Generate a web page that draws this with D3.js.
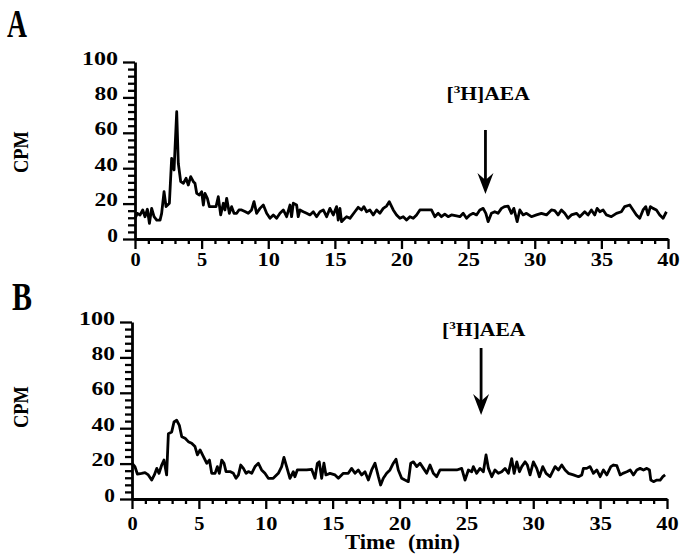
<!DOCTYPE html>
<html>
<head>
<meta charset="utf-8">
<script src="https://cdn.jsdelivr.net/npm/d3@7"></script>
<style>
  body { margin: 0; background: #fff; }
  svg text { font-family: "Liberation Serif", "Times New Roman", serif; font-weight: bold; fill: #000; }
</style>
</head>
<body>
<div id="chart"></div>
<script>
// tick values
const xTicks = [0, 5, 10, 15, 20, 25, 30, 35, 40];
const yTicks = [0, 20, 40, 60, 80, 100];

// trace A: [time (min), CPM]
const traceA = [
  [0, 11.7], [0.18, 14.5], [0.38, 13.6], [0.58, 16.4], [0.75, 12.6], [0.93, 16.8], [1.08, 8.8], [1.25, 17.3],
  [1.43, 12.6], [1.63, 10.7], [1.88, 10.7], [2.0, 14.5], [2.18, 26.7], [2.33, 18.3], [2.58, 20.2], [2.75, 45.6],
  [2.93, 39], [3.13, 71.9], [3.25, 42.7], [3.43, 32.4], [3.63, 31.5], [3.83, 34.3], [4.0, 30.5], [4.18, 35.2],
  [4.38, 32.4], [4.5, 31.5], [4.63, 25.8], [4.83, 24.9], [5.0, 26.7], [5.13, 19.2], [5.25, 25.8], [5.43, 23],
  [5.58, 18.3], [5.83, 18.3], [6.08, 18.3], [6.25, 23.9], [6.43, 13.6], [6.63, 20.2], [6.75, 16.4], [6.88, 23],
  [7.08, 14.5], [7.25, 18.3], [7.43, 14.5], [7.63, 14.5], [7.8, 16.4], [8.0, 16.4], [8.25, 15.5], [8.5, 14.5],
  [8.75, 16.4], [8.93, 21.1], [9.13, 14.5], [9.38, 17.3], [9.63, 19.2], [9.88, 14.5], [10.13, 11.7], [10.38, 13.6],
  [10.63, 11.7], [10.88, 14.5], [11.13, 16.4], [11.38, 12.6], [11.63, 19.2], [11.75, 12.6], [11.88, 20.2], [12.13, 19.2],
  [12.25, 12.6], [12.38, 16.4], [12.63, 15.4], [12.88, 14.5], [13.13, 13.6], [13.38, 15.4], [13.63, 12.6], [13.88, 15.4],
  [14.13, 16.4], [14.38, 12.6], [14.63, 17.3], [14.88, 13.6], [15.13, 18.3], [15.25, 10.7], [15.38, 17.3], [15.5, 9.8],
  [15.75, 11.7], [15.88, 12.6], [16.13, 11.7], [16.5, 15.4], [16.75, 17.9], [17.0, 16.4], [17.18, 18.3], [17.38, 15.4],
  [17.63, 16.4], [17.88, 13.6], [18.13, 16.4], [18.38, 14.5], [18.63, 17.3], [18.88, 18.6], [19.08, 21.1], [19.38, 16.4],
  [19.63, 13.6], [19.88, 11.7], [20.13, 12.6], [20.38, 10.7], [20.63, 12.6], [20.88, 11.7], [21.13, 13.6], [21.38, 16.4],
  [22.25, 16.4], [22.5, 12.6], [22.75, 14.5], [23.0, 12.6], [23.25, 14], [23.5, 12.6], [23.75, 13.6], [24.13, 13],
  [24.38, 12.6], [24.63, 14.5], [24.88, 11.7], [25.13, 13.6], [25.38, 14.5], [25.63, 13.6], [25.88, 16.4], [26.13, 17.3],
  [26.33, 14.5], [26.5, 9.8], [26.75, 14.5], [27.0, 15.4], [27.25, 14.5], [27.5, 17.3], [27.75, 18.3], [28.0, 18.6],
  [28.25, 14.5], [28.43, 17.3], [28.68, 9.8], [28.88, 16.4], [29.13, 13.6], [29.38, 14.5], [29.75, 12.6], [30.13, 13.6],
  [30.5, 14.5], [30.88, 13.6], [31.25, 16.4], [31.5, 16], [31.75, 13.6], [32.0, 16.4], [32.25, 14.5], [32.5, 11.7],
  [32.75, 13.6], [33.13, 14.5], [33.38, 12.6], [33.75, 15.4], [34.0, 13.6], [34.25, 16.4], [34.5, 13.6], [34.68, 17.3],
  [34.88, 15.4], [35.13, 16.4], [35.38, 13.6], [35.75, 12.6], [36.13, 14.5], [36.5, 15.4], [36.75, 18.3], [37.13, 19.2],
  [37.38, 16.4], [37.63, 13.6], [37.88, 11.7], [38.13, 16.4], [38.33, 18.3], [38.5, 13.6], [38.68, 18.3], [38.88, 17.3],
  [39.13, 16.4], [39.38, 13.6], [39.63, 11.7], [39.88, 15.4]
];

// trace B: [time (min), CPM]
const traceB = [
  [0, 20.2], [0.22, 18.3], [0.4, 14.1], [0.72, 14.5], [0.97, 14.9], [1.22, 13.6], [1.47, 10.7], [1.67, 13.6],
  [1.85, 17.3], [2.02, 14.5], [2.22, 19.2], [2.39, 22], [2.59, 13.6], [2.72, 36.9], [2.97, 37.9], [3.14, 43.5],
  [3.34, 44.5], [3.54, 41.6], [3.72, 35.2], [3.97, 34.3], [4.21, 32.4], [4.46, 31.5], [4.71, 29.6], [4.89, 24.9],
  [5.09, 27.7], [5.34, 23.9], [5.59, 20.2], [5.79, 22], [5.96, 14.5], [6.21, 14.5], [6.38, 18.3], [6.53, 14.5],
  [6.71, 22], [6.88, 20.2], [7.03, 15.5], [7.33, 15.5], [7.58, 14.5], [7.78, 11.7], [7.96, 13.6], [8.13, 19.2],
  [8.33, 17.3], [8.53, 14.5], [8.7, 15.5], [8.95, 14.5], [9.2, 18.3], [9.45, 20.2], [9.69, 16.4], [9.94, 14.5],
  [10.19, 11.7], [10.56, 11.7], [10.94, 14.5], [11.19, 18.3], [11.36, 23.5], [11.56, 18.3], [11.81, 11.7], [12.06, 15.4],
  [12.18, 12.6], [12.36, 16.4], [12.68, 16.4], [13.06, 16.4], [13.43, 16.8], [13.68, 11.7], [13.86, 20.2], [14.0, 21],
  [14.18, 11.7], [14.35, 20.2], [14.5, 13.6], [14.8, 14.5], [15.18, 13.6], [15.43, 11.7], [15.8, 14.5], [16.17, 14.5],
  [16.42, 17.3], [16.67, 14.5], [16.92, 16.4], [17.17, 13.6], [17.42, 15.4], [17.67, 10.7], [17.92, 16.4], [18.17, 20.2],
  [18.42, 12.6], [18.59, 7.9], [18.79, 11.7], [19.04, 14.5], [19.29, 16.4], [19.54, 20.2], [19.74, 22.5], [19.91, 16.4],
  [20.16, 11.7], [20.41, 10.7], [20.66, 9.8], [20.84, 20.2], [21.04, 21], [21.29, 18.3], [21.54, 20.2], [21.79, 17.3],
  [22.03, 14.5], [22.28, 19.2], [22.53, 14.5], [22.78, 12.6], [23.03, 16.4], [23.53, 16.4], [24.28, 16.4], [24.65, 17.3],
  [24.9, 10.7], [25.15, 16.4], [25.4, 15.4], [25.52, 18.3], [25.77, 14.5], [26.02, 17.3], [26.27, 15.4], [26.47, 24.9],
  [26.65, 17.3], [26.9, 12.6], [27.14, 16.4], [27.39, 14.5], [27.64, 15.4], [27.89, 17.3], [28.14, 14.5], [28.39, 22.8],
  [28.57, 14.5], [28.77, 21], [28.97, 15.4], [29.14, 18.3], [29.39, 21], [29.56, 19.2], [29.76, 13.6], [30.01, 21],
  [30.26, 17.3], [30.46, 12.6], [30.71, 18.3], [30.96, 14.5], [31.26, 12.6], [31.63, 18.3], [31.88, 16.4], [32.13, 19.2],
  [32.38, 16.4], [32.63, 14.5], [33.0, 13.6], [33.38, 12.6], [33.63, 13.6], [33.75, 17.3], [34.0, 17.3], [34.25, 18.3],
  [34.5, 14.5], [34.75, 16.4], [35.0, 12.6], [35.25, 16.4], [35.5, 13.6], [35.8, 18.3], [36.0, 19.2], [36.25, 18.8],
  [36.5, 13.6], [36.7, 14.5], [37.0, 15.4], [37.25, 16.4], [37.49, 13.6], [37.74, 16.4], [37.99, 17.3], [38.24, 16.4],
  [38.49, 17.3], [38.69, 16.4], [38.79, 10.7], [38.99, 9.8], [39.24, 10.7], [39.49, 10.7], [39.69, 12.6], [39.86, 13.6]
];

// injection arrows: time, top and tip of arrow (CPM units), label baseline (CPM units)
const arrowTimes = [26.3, 26.1];
const arrowTops = [61.6, 85.3];
const arrowTips = [25.4, 47.5];
const arrowLabelAt = [78.5, 92];

const svg = d3.select('#chart')
  .append('svg')
  .attr('width', 682)
  .attr('height', 555);

// each panel has its own frame in the page
const panels = [
  { name: 'A', data: traceA, xr: [135, 668], yr: [239, 62], xLabelY: 27, nameX: 7, nameY: 37, cpmY: 152 },
  { name: 'B', data: traceB, xr: [132, 667], yr: [499, 322], xLabelY: 31, nameX: 12, nameY: 310, cpmY: 407 }
];

panels.forEach((p, i) => {
  const x = d3.scaleLinear().domain([0, 40]).range(p.xr);
  const y = d3.scaleLinear().domain([0, 100]).range(p.yr);
  const g = svg.append('g');

  // minor ticks first
  g.append('g')
    .attr('transform', `translate(${p.xr[0]},0)`)
    .call(d3.axisLeft(y).tickValues(d3.range(0, 101, 4).filter(v => v % 20)).tickSize(7).tickFormat(''))
    .call(a => a.select('.domain').remove());
  g.append('g')
    .attr('transform', `translate(0,${p.yr[0]})`)
    .call(d3.axisBottom(x).tickValues(d3.range(0, 41).filter(v => v % 5)).tickSize(5).tickFormat(''))
    .call(a => a.select('.domain').remove());

  // major y axis
  const yAxis = g.append('g')
    .attr('transform', `translate(${p.xr[0]},0)`)
    .call(d3.axisLeft(y).tickValues(yTicks).tickSize(12).tickSizeOuter(0).tickPadding(5));
  yAxis.selectAll('text')
    .attr('dy', 2)
    .style('font-size', '18px')
    .attr('textLength', d => String(d).length * 12.7 - 2)
    .attr('lengthAdjust', 'spacingAndGlyphs');

  // major x axis
  const xAxis = g.append('g')
    .attr('transform', `translate(0,${p.yr[0]})`)
    .call(d3.axisBottom(x).tickValues(xTicks).tickSize(10).tickSizeOuter(0));
  xAxis.selectAll('text')
    .attr('y', p.xLabelY)
    .attr('dy', 0)
    .style('font-size', '19px')
    .attr('textLength', d => String(d).length * 12.2 - 2)
    .attr('lengthAdjust', 'spacingAndGlyphs');

  g.selectAll('.domain').attr('stroke', '#000').attr('stroke-width', 2.8);
  g.selectAll('.tick line').attr('stroke', '#000').attr('stroke-width', 2.3);

  // trace
  const line = d3.line()
    .x(d => x(d[0]))
    .y(d => y(d[1]));
  g.append('path')
    .datum(p.data)
    .attr('d', line)
    .attr('fill', 'none')
    .attr('stroke', '#000')
    .attr('stroke-width', 2.8)
    .attr('stroke-linejoin', 'round');

  // panel letter
  svg.append('text')
    .attr('x', p.nameX)
    .attr('y', p.nameY)
    .style('font-size', '40px')
    .attr('textLength', 20)
    .attr('lengthAdjust', 'spacingAndGlyphs')
    .text(p.name);

  // y label
  svg.append('text')
    .attr('transform', `translate(28,${p.cpmY}) rotate(-90)`)
    .attr('text-anchor', 'middle')
    .style('font-size', '21px')
    .attr('textLength', 42)
    .attr('lengthAdjust', 'spacingAndGlyphs')
    .text('CPM');

  // arrow for the [3H]AEA injection
  const ax = x(arrowTimes[i]);
  const yTop = y(arrowTops[i]);
  const yTip = y(arrowTips[i]);
  g.append('line')
    .attr('x1', ax).attr('x2', ax)
    .attr('y1', yTop).attr('y2', yTip - 10)
    .attr('stroke', '#000')
    .attr('stroke-width', 2.8);
  g.append('path')
    .attr('d', `M${ax},${yTip} L${ax - 8},${yTip - 21} L${ax},${yTip - 14} L${ax + 8},${yTip - 21} Z`)
    .attr('fill', '#000');

  const lab = g.append('text')
    .attr('transform', `translate(${ax - 39},${y(arrowLabelAt[i])}) scale(1.2,1)`)
    .style('font-size', '18px');
  lab.append('tspan').text('[');
  lab.append('tspan').attr('dy', -7).style('font-size', '11px').text('3');
  lab.append('tspan').attr('dy', 7).text('H]AEA');
});

// x axis title (panel B only)
svg.append('text')
  .attr('x', 345).attr('y', 549)
  .style('font-size', '20px')
  .attr('textLength', 50)
  .attr('lengthAdjust', 'spacingAndGlyphs')
  .text('Time');
svg.append('text')
  .attr('x', 408).attr('y', 549)
  .style('font-size', '20px')
  .attr('textLength', 52)
  .attr('lengthAdjust', 'spacingAndGlyphs')
  .text('(min)');
</script>
</body>
</html>
